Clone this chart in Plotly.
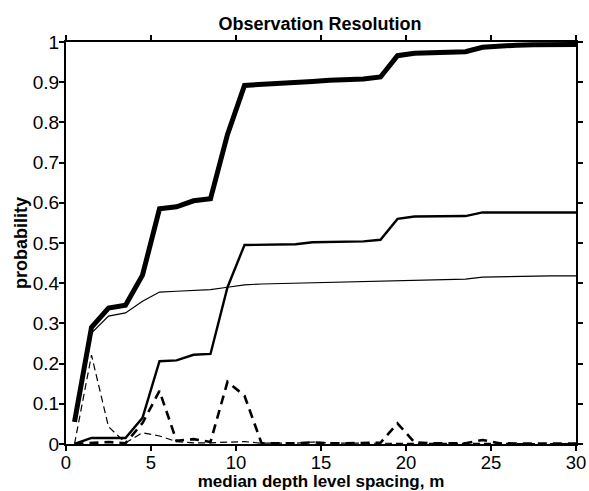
import plotly.graph_objects as go

x = [0.5, 1.5, 2.5, 3.5, 4.5, 5.5, 6.5, 7.5, 8.5, 9.5, 10.5, 11.5, 12.5, 13.5, 14.5,
     15.5, 16.5, 17.5, 18.5, 19.5, 20.5, 21.5, 22.5, 23.5, 24.5, 25.5, 26.5, 27.5, 28.5, 29.5, 30.5]

thick_solid = [0.055, 0.29, 0.338, 0.345, 0.42, 0.585, 0.59, 0.605, 0.61, 0.77, 0.892, 0.894,
               0.896, 0.897, 0.902, 0.905, 0.906, 0.908, 0.913, 0.966, 0.972, 0.973, 0.974,
               0.976, 0.987, 0.991, 0.992, 0.993, 0.993, 0.994, 0.994]

medium_solid = [0.0, 0.015, 0.015, 0.015, 0.065, 0.206, 0.208, 0.222, 0.224, 0.39, 0.495, 0.496,
                0.497, 0.497, 0.502, 0.503, 0.504, 0.504, 0.508, 0.560, 0.566, 0.566, 0.566,
                0.567, 0.576, 0.576, 0.576, 0.576, 0.576, 0.576, 0.576]

thin_solid = [0.055, 0.276, 0.318, 0.326, 0.355, 0.378, 0.380, 0.382, 0.384, 0.390, 0.396, 0.398,
              0.399, 0.400, 0.401, 0.402, 0.403, 0.404, 0.405, 0.406, 0.407, 0.408, 0.409,
              0.410, 0.415, 0.416, 0.417, 0.417, 0.418, 0.418, 0.418]

thick_dashed = [0.0, 0.002, 0.005, 0.002, 0.052, 0.132, 0.008, 0.012, 0.005, 0.155, 0.12, 0.002,
                0.002, 0.002, 0.004, 0.002, 0.002, 0.002, 0.003, 0.051, 0.004, 0.002, 0.002,
                0.002, 0.01, 0.002, 0.001, 0.001, 0.001, 0.001, 0.001]

thin_dashed = [0.0, 0.221, 0.043, 0.003, 0.028, 0.020, 0.006, 0.003, 0.003, 0.004, 0.006, 0.002,
               0.002, 0.002, 0.005, 0.002, 0.002, 0.002, 0.002, 0.002, 0.002, 0.001, 0.001,
               0.001, 0.002, 0.001, 0.001, 0.001, 0.001, 0.001, 0.001]

x_ticks = [0, 5, 10, 15, 20, 25, 30]
y_ticks = [0, 0.1, 0.2, 0.3, 0.4, 0.5, 0.6, 0.7, 0.8, 0.9, 1]
y_tick_text = ["0", "0.1", "0.2", "0.3", "0.4", "0.5", "0.6", "0.7", "0.8", "0.9", "1"]

fig = go.Figure()
series = [
    (thin_dashed, 1.2, "7px,4px"),
    (thick_dashed, 2.6, "9px,6px"),
    (thin_solid, 1.2, "solid"),
    (medium_solid, 2.4, "solid"),
    (thick_solid, 5, "solid"),
]
for ys, w, d in series:
    fig.add_trace(go.Scatter(x=x, y=ys, mode="lines",
                             line=dict(color="black", width=w, dash=d),
                             showlegend=False, cliponaxis=True, hoverinfo="skip"))

font = "Liberation Sans, Arial, sans-serif"
fig.update_layout(
    width=589, height=491,
    margin=dict(l=66, r=13, t=42, b=47),
    paper_bgcolor="white", plot_bgcolor="white",
    font=dict(family=font, color="black", size=18),
    title=dict(text="<b>Observation Resolution</b>", x=320 / 589, xanchor="center",
               xref="container", y=1 - 24 / 491, yanchor="middle", font=dict(size=18, family=font)),
)
axis_common = dict(ticks="outside", ticklen=5, tickwidth=1.5, tickcolor="black",
                   showline=True, linecolor="black", linewidth=2, mirror="ticks",
                   showgrid=False, zeroline=False, automargin=False)
fig.update_xaxes(range=[0, 30], tickvals=x_ticks, ticklabelstandoff=-4,
                 tickfont=dict(size=18.5),
                 title=dict(text="<b>median depth level spacing, m</b>", font=dict(size=17), standoff=8),
                 **axis_common)
fig.update_yaxes(range=[0, 1], tickvals=y_ticks, ticktext=y_tick_text, ticklabelstandoff=-4,
                 tickfont=dict(size=19),
                 title=dict(text="<b>probability</b>", font=dict(size=18), standoff=0),
                 **axis_common)

fig.write_html("out.html", config={"displayModeBar": False},
               post_script="document.body.style.margin='0';document.body.style.overflow='hidden';")
